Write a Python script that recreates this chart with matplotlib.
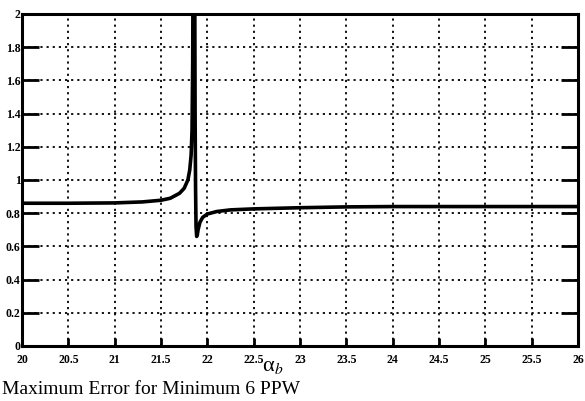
import matplotlib
matplotlib.use("Agg")
import matplotlib.pyplot as plt

# Data
alpha_b = [20.0, 20.5, 21.0, 21.3, 21.5, 21.6, 21.7, 21.75, 21.79, 21.81, 21.825, 21.835, 21.842, 21.848,
           21.862, 21.868, 21.873, 21.878, 21.885, 21.892, 21.90, 21.92, 21.95, 22.0, 22.1, 22.25, 22.5,
           23.0, 23.5, 24.0, 24.5, 25.0, 25.5, 26.0]
max_error = [0.86, 0.86, 0.862, 0.868, 0.878, 0.89, 0.92, 0.95, 1.0, 1.06, 1.15, 1.3, 1.7, 2.6,
             2.6, 1.4, 0.95, 0.72, 0.66, 0.67, 0.70, 0.745, 0.775, 0.795, 0.81, 0.82, 0.826,
             0.833, 0.838, 0.84, 0.84, 0.84, 0.84, 0.84]
xticks = [20, 20.5, 21, 21.5, 22, 22.5, 23, 23.5, 24, 24.5, 25, 25.5, 26]
xticklabels = ["20", "20.5", "21", "21.5", "22", "22.5", "23", "23.5", "24", "24.5", "25", "25.5", "26"]
yticks = [0, 0.2, 0.4, 0.6, 0.8, 1, 1.2, 1.4, 1.6, 1.8, 2]
yticklabels = ["0", "0.2", "0.4", "0.6", "0.8", "1", "1.2", "1.4", "1.6", "1.8", "2"]

serif = ["Liberation Serif", "DejaVu Serif"]
fig = plt.figure(figsize=(5.85, 4.01), dpi=100)
ax = fig.add_axes([22/585, 55/401, 556/585, 332/401])

ax.plot(alpha_b, max_error, color="black", lw=2.6, solid_joinstyle="round")
ax.set_xlim(20, 26)
ax.set_ylim(0, 2)

ax.set_xticks(xticks)
ax.set_xticklabels(xticklabels, fontfamily=serif, fontweight="bold", fontsize=8.5)
ax.set_yticks(yticks)
ax.set_yticklabels(yticklabels, fontfamily=serif, fontweight="bold", fontsize=8.5)
ax.tick_params(axis="y", direction="in", length=12, width=2, color="black",
               left=True, right=True, pad=1)
ax.tick_params(axis="x", direction="in", length=6, width=2, color="black",
               bottom=True, top=False, pad=6)
for sp in ax.spines.values():
    sp.set_linewidth(2.2)
ax.grid(True, color="black", linestyle=(0, (1.2, 2.2)), lw=1.3)

fig.text(273/585, 1 - 367/401, r"α$_b$", fontsize=16, ha="center", va="center",
         fontfamily=serif, math_fontfamily="stix")
fig.text(2/585, 1 - 389/401, "Maximum Error for Minimum 6 PPW", fontsize=14,
         fontfamily=serif, ha="left", va="center")

fig.savefig("out.png", dpi=100)
